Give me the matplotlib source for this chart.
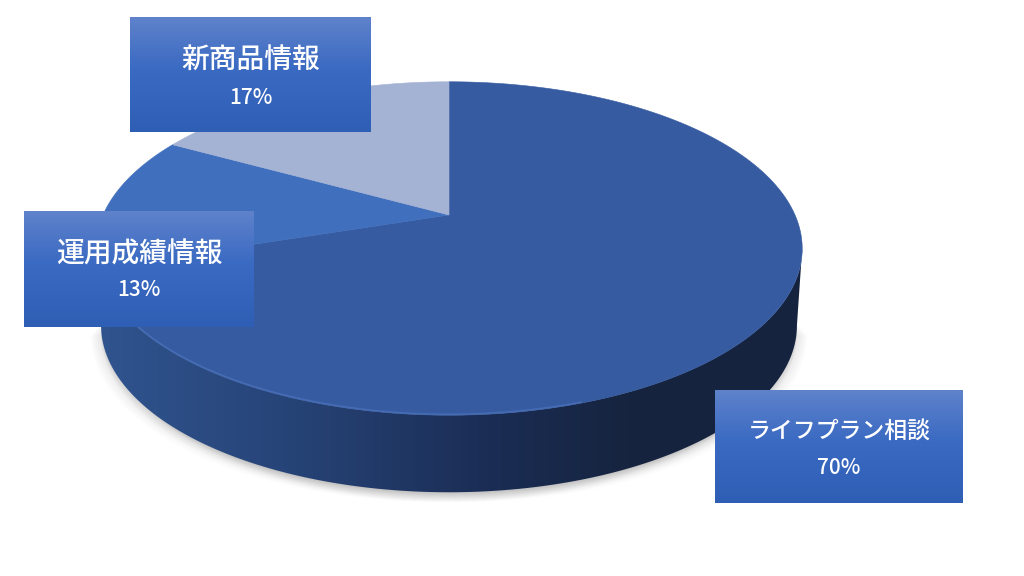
import numpy as np
import matplotlib
matplotlib.use("Agg")
import matplotlib.pyplot as plt
from matplotlib.patches import Polygon
from matplotlib.colors import LinearSegmentedColormap

plt.rcParams['font.family'] = ['Noto Sans CJK JP', 'DejaVu Sans']

names = ['ライフプラン相談', '運用成績情報', '新商品情報']
shares = [70, 13, 17]
top_colors = ['#365ba1', '#406fbe', '#a4b2d4']

# pie geometry in pixels, perspective so the centre sits above the middle of the ellipse
cx, cy = 449, 215
rx = 346
b = 160
k = 0.201
depth = 77
narrow = 0.985  # lower rim is a bit narrower than the top one


def rim(theta):
    u = np.sin(theta)
    v = -np.cos(theta)
    d = 1 - k * v
    return cx + rx * u / d, cy + b * v / d


def low_rim(theta):
    x, y = rim(theta)
    return cx + (x - cx) * narrow, y + depth


fig = plt.figure(figsize=(10.24, 5.76), dpi=100)
ax = fig.add_axes([0, 0, 1, 1])
ax.set_xlim(0, 1024)
ax.set_ylim(576, 0)
ax.axis('off')

# front part of the rim between the two widest points, used for the side wall
th_r = np.arccos(-k)
th = np.linspace(th_r, 2 * np.pi - th_r, 400)
xs, ys = rim(th)
lx, ly = low_rim(th)
wall = np.r_[np.c_[xs, ys], np.c_[lx[::-1], ly[::-1]]]

# soft shadow
for i in range(14):
    off = i * 1.0
    for dx in (-0.8, 0, 0.8):
        p = Polygon(np.c_[lx + off * dx, ly + off - 3], closed=True, color='#000000',
                    alpha=0.009, lw=0, zorder=1)
        ax.add_patch(p)

# side wall with horizontal gradient
side_cmap = LinearSegmentedColormap.from_list(
    'side', [(0, '#30548f'), (0.28, '#264376'), (0.55, '#1b2d55'), (0.75, '#16243f'), (1, '#15233e')])
wall_patch = Polygon(wall, closed=True, fc='none', ec='none', zorder=2)
ax.add_patch(wall_patch)
im = ax.imshow(np.linspace(0, 1, 256)[None, :], cmap=side_cmap, extent=[97, 805, 576, 0],
               aspect='auto', zorder=2)
im.set_clip_path(wall_patch)

# top face, wedges clockwise from twelve o'clock
start = 0.0
for share, col in zip(shares, top_colors):
    end = start + share / sum(shares) * 2 * np.pi
    wx, wy = rim(np.linspace(start, end, 300))
    wedge = np.r_[[[cx, cy]], np.c_[wx, wy]]
    ax.add_patch(Polygon(wedge, closed=True, fc=col, ec=col, lw=0.4, zorder=3))
    start = end

# light bevel on the front edge of the top face
bx, by = rim(np.linspace(np.pi * 0.9, np.pi * 1.38, 200))
ax.plot(bx, by - 1, color='#4a72bb', lw=1.2, alpha=0.7, zorder=4)

# label boxes with vertical gradient
box_cmap = LinearSegmentedColormap.from_list(
    'box', [(0, '#5f82cb'), (0.45, '#3a6ac2'), (1, '#2f5eb5')])
boxes = [(715, 390, 963, 503), (24, 211, 254, 327), (130, 17, 371, 132)]
name_sizes = [16.5, 20, 20]
name_dy = [41, 43, 43]
pct_dy = [78, 79, 81]
for (x0, y0, x1, y1), name, share, fs, ndy, pdy in zip(boxes, names, shares, name_sizes, name_dy, pct_dy):
    ax.imshow(np.linspace(0, 1, 128)[:, None], cmap=box_cmap, extent=[x0, x1, y1, y0],
              aspect='auto', zorder=5)
    mid = (x0 + x1) / 2
    ax.text(mid, y0 + ndy, name, color='white', fontsize=fs, fontweight='medium',
            ha='center', va='center', zorder=6)
    ax.text(mid, y0 + pdy, f'{share}%', color='white', fontsize=15, fontweight='medium',
            ha='center', va='center', zorder=6)
ax.set_xlim(0, 1024)
ax.set_ylim(576, 0)

fig.savefig('out.png', dpi=100, facecolor='white')
